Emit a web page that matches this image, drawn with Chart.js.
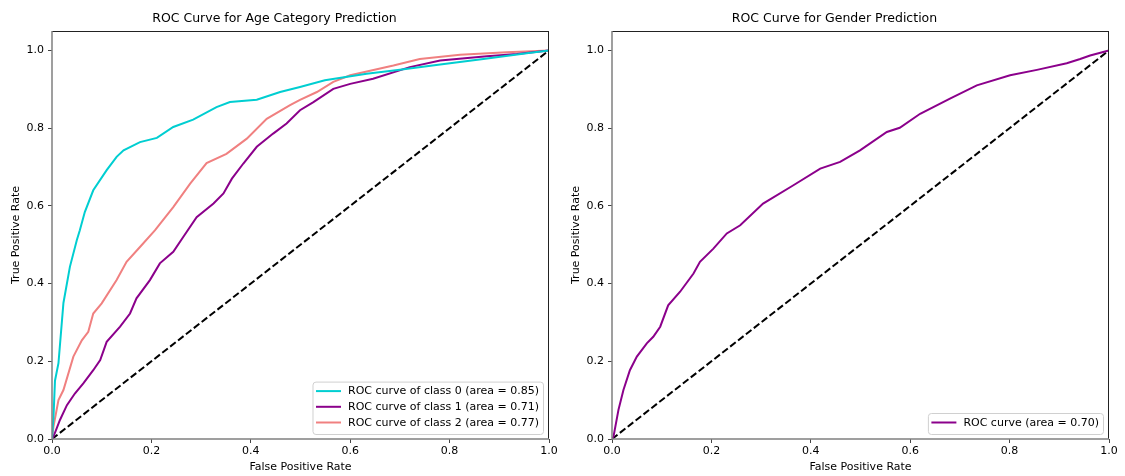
<!DOCTYPE html>
<html>
<head>
<meta charset="utf-8">
<script src="https://cdn.jsdelivr.net/npm/chart.js@4.4.1/dist/chart.umd.min.js"></script>
<style>
  html, body { margin: 0; padding: 0; background: #fff; }
  #wrap { position: relative; width: 1125px; height: 476px; }
  #c1 { position: absolute; left: 0; top: 0; }
  #c2 { position: absolute; left: 560px; top: 0; }
</style>
</head>
<body>
<div id="wrap">
  <canvas id="c1" width="560" height="476"></canvas>
  <canvas id="c2" width="565" height="476"></canvas>
</div>
<script>
// ---- Data ----
const TICKS = [0.0, 0.2, 0.4, 0.6, 0.8, 1.0];

const AGE_TITLE = "ROC Curve for Age Category Prediction";
const GENDER_TITLE = "ROC Curve for Gender Prediction";

const AGE_LABELS = [
  "ROC curve of class 0 (area = 0.85)",
  "ROC curve of class 1 (area = 0.71)",
  "ROC curve of class 2 (area = 0.77)"
];
const GENDER_LABEL = "ROC curve (area = 0.70)";

const FPR0 = [0, 0.003, 0.006, 0.013, 0.023, 0.036, 0.05, 0.056, 0.066, 0.083, 0.11, 0.13, 0.144, 0.177, 0.211, 0.244, 0.284, 0.331, 0.358, 0.412, 0.459, 0.499, 0.549, 0.633, 0.70, 0.781, 0.868, 0.955, 1];
const TPR0 = [0, 0.057, 0.15, 0.195, 0.35, 0.443, 0.512, 0.537, 0.584, 0.64, 0.692, 0.726, 0.743, 0.764, 0.775, 0.803, 0.822, 0.854, 0.867, 0.873, 0.893, 0.906, 0.923, 0.940, 0.950, 0.964, 0.978, 0.993, 1];

const FPR1 = [0, 0.003, 0.016, 0.030, 0.046, 0.063, 0.083, 0.097, 0.110, 0.137, 0.157, 0.170, 0.197, 0.217, 0.244, 0.264, 0.291, 0.325, 0.345, 0.362, 0.385, 0.412, 0.445, 0.472, 0.499, 0.526, 0.566, 0.600, 0.646, 0.720, 0.781, 0.875, 0.935, 1];
const TPR1 = [0, 0.006, 0.049, 0.087, 0.117, 0.143, 0.177, 0.203, 0.25, 0.289, 0.323, 0.362, 0.409, 0.452, 0.482, 0.520, 0.571, 0.606, 0.632, 0.670, 0.709, 0.752, 0.786, 0.812, 0.846, 0.867, 0.901, 0.914, 0.927, 0.957, 0.974, 0.985, 0.991, 1];

const FPR2 = [0, 0.003, 0.013, 0.023, 0.043, 0.060, 0.073, 0.083, 0.100, 0.130, 0.150, 0.177, 0.207, 0.244, 0.278, 0.311, 0.351, 0.392, 0.432, 0.479, 0.499, 0.533, 0.566, 0.600, 0.687, 0.740, 0.821, 0.915, 1];
const TPR2 = [0, 0.032, 0.10, 0.126, 0.212, 0.254, 0.276, 0.323, 0.349, 0.409, 0.456, 0.494, 0.537, 0.597, 0.657, 0.710, 0.734, 0.773, 0.824, 0.859, 0.873, 0.893, 0.919, 0.936, 0.961, 0.978, 0.989, 0.995, 1];

const FPR_G = [0, 0.003, 0.013, 0.023, 0.036, 0.050, 0.070, 0.083, 0.097, 0.113, 0.137, 0.164, 0.177, 0.204, 0.231, 0.258, 0.304, 0.365, 0.419, 0.459, 0.499, 0.553, 0.579, 0.620, 0.680, 0.734, 0.801, 0.855, 0.915, 0.942, 0.962, 0.994, 1];
const TPR_G = [0, 0.006, 0.075, 0.126, 0.177, 0.212, 0.246, 0.263, 0.289, 0.344, 0.379, 0.426, 0.456, 0.490, 0.529, 0.550, 0.606, 0.653, 0.696, 0.713, 0.743, 0.790, 0.801, 0.837, 0.876, 0.910, 0.936, 0.950, 0.967, 0.978, 0.987, 0.998, 1];

const DIAG_X = [0, 1];
const DIAG_Y = [0, 1];

// ---- Helpers ----
const FONT = "'DejaVu Sans', sans-serif";
const pts = (xs, ys) => xs.map((x, i) => ({ x: x, y: ys[i] }));

function lineDs(label, xs, ys, color) {
  return { label: label, data: pts(xs, ys), borderColor: color, backgroundColor: color,
           borderWidth: 2, pointRadius: 0, tension: 0, fill: false, showLine: true };
}
function diagDs() {
  return { label: '', data: pts(DIAG_X, DIAG_Y), borderColor: '#000', backgroundColor: '#000',
           borderWidth: 2, borderDash: [7, 3], pointRadius: 0, tension: 0, fill: false,
           showLine: true, legendSkip: true };
}

const framePlugin = {
  id: 'frame',
  afterDatasetsDraw(chart) {
    const { ctx, chartArea: a } = chart;
    ctx.save();
    ctx.lineWidth = 1;
    ctx.strokeStyle = '#222';
    ctx.beginPath();
    ctx.moveTo(a.left, a.top + 0.5); ctx.lineTo(a.right, a.top + 0.5);
    ctx.moveTo(a.right - 0.5, a.top); ctx.lineTo(a.right - 0.5, a.bottom);
    ctx.stroke();
    ctx.lineWidth = 1.5;
    ctx.strokeStyle = '#808080';
    ctx.beginPath();
    ctx.moveTo(a.left, a.top); ctx.lineTo(a.left, a.bottom);
    ctx.lineTo(a.right, a.bottom);
    ctx.stroke();
    ctx.restore();
  }
};

const boxLegendPlugin = {
  id: 'boxLegend',
  afterDraw(chart) {
    const { ctx, chartArea: a } = chart;
    const items = chart.data.datasets.filter(d => !d.legendSkip);
    ctx.save();
    ctx.font = "11px " + FONT;
    let tw = 0;
    items.forEach(d => { tw = Math.max(tw, ctx.measureText(d.label).width); });
    const padL = 3.5, handle = 25, gap = 7, padR = 4;
    const pitch = 15.7, above = 9.5, below = 11.5;
    const w = padL + handle + gap + tw + padR;
    const h = above + (items.length - 1) * pitch + below;
    const right = a.right - 6, bottom = a.bottom - 5;
    const left = right - w, top = bottom - h;
    ctx.beginPath();
    ctx.roundRect(left + 0.5, top + 0.5, w, h, 3);
    ctx.fillStyle = 'rgba(255,255,255,0.85)';
    ctx.fill();
    ctx.strokeStyle = '#d0d0d0';
    ctx.lineWidth = 1;
    ctx.stroke();
    items.forEach((d, i) => {
      const y = top + above + i * pitch;
      ctx.strokeStyle = d.borderColor;
      ctx.lineWidth = 2;
      ctx.beginPath();
      ctx.moveTo(left + padL, y); ctx.lineTo(left + padL + handle, y);
      ctx.stroke();
      ctx.fillStyle = '#000';
      ctx.textBaseline = 'middle';
      ctx.textAlign = 'left';
      ctx.fillText(d.label, left + padL + handle + gap, y + 0.5);
    });
    ctx.restore();
  }
};

function makeChart(id, title, datasets, rightPad) {
  const tickFont = { family: FONT, size: 11 };
  return new Chart(document.getElementById(id), {
    type: 'scatter',
    data: { datasets: datasets },
    options: {
      responsive: false,
      animation: false,
      layout: { padding: { left: 0, right: rightPad, top: 0, bottom: 0 } },
      plugins: {
        legend: { display: false },
        tooltip: { enabled: false },
        title: { display: true, text: title, color: '#000',
                 font: { family: FONT, size: 12.5, weight: 'normal' },
                 padding: { top: 11.5, bottom: 4.5 } }
      },
      scales: {
        x: {
          type: 'linear', min: 0, max: 1,
          afterBuildTicks: s => { s.ticks = TICKS.map(v => ({ value: v })); },
          afterFit: s => { s.height = 37; },
          ticks: { callback: v => v.toFixed(1), color: '#000', font: tickFont, padding: 2, maxRotation: 0 },
          grid: { display: true, drawOnChartArea: false, drawTicks: true, tickLength: 4, color: '#444', tickWidth: 1 },
          border: { display: false },
          title: { display: true, text: 'False Positive Rate', color: '#000', font: tickFont, padding: { top: 0, bottom: 2.4 } }
        },
        y: {
          type: 'linear', min: 0, max: 1.05,
          afterBuildTicks: s => { s.ticks = TICKS.map(v => ({ value: v })); },
          afterFit: s => { s.width = 52; },
          ticks: { callback: v => v.toFixed(1), color: '#000', font: tickFont, padding: 4 },
          grid: { display: true, drawOnChartArea: false, drawTicks: true, tickLength: 4, color: '#444', tickWidth: 1 },
          border: { display: false },
          title: { display: true, text: 'True Positive Rate', color: '#000', font: tickFont, padding: { top: 9.4, bottom: 0 } }
        }
      }
    },
    plugins: [framePlugin, boxLegendPlugin]
  });
}

makeChart('c1', AGE_TITLE, [
  lineDs(AGE_LABELS[0], FPR0, TPR0, '#00CED1'),
  lineDs(AGE_LABELS[1], FPR1, TPR1, '#8B008B'),
  lineDs(AGE_LABELS[2], FPR2, TPR2, '#F08080'),
  diagDs()
], 11);

makeChart('c2', GENDER_TITLE, [
  lineDs(GENDER_LABEL, FPR_G, TPR_G, '#8B008B'),
  diagDs()
], 16);
</script>
</body>
</html>
